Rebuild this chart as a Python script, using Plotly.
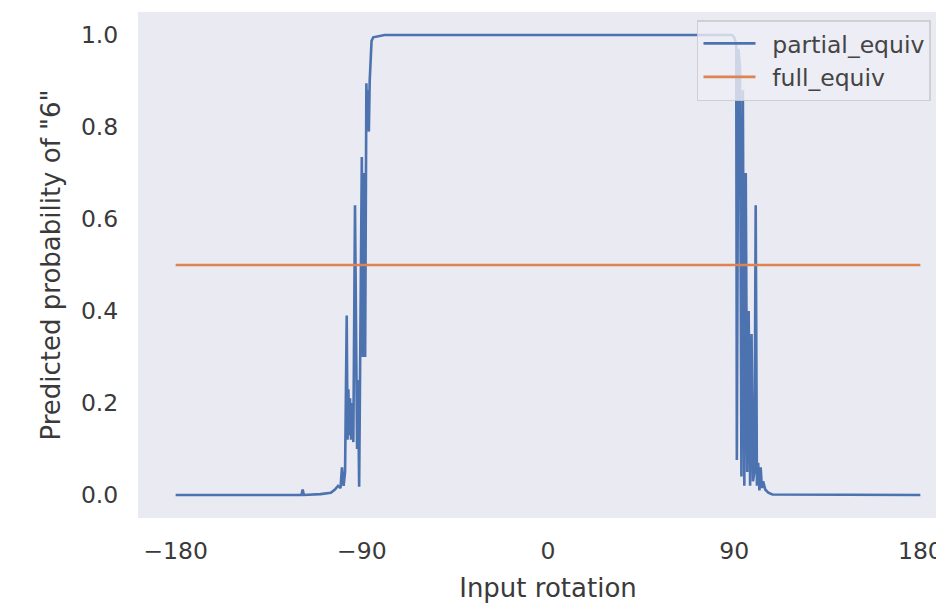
import plotly.graph_objects as go

# partial_equiv: predicted probability of "6" vs input rotation (degrees)
partial_x = [
    -180, -120, -119.2, -118.6, -118.0, -110, -105, -103, -101.5, -100.3,
    -99.6, -98.8, -98.1, -97.3, -96.9, -96.5, -96.1, -95.7, -95.2, -94.6,
    -94.1, -93.3, -92.3, -91.8, -91.3, -90.0, -89.5, -88.8, -88.4, -87.8,
    -87.4, -87.0, -86.6, -86.2, -85.8, -85.3, -84.5, -82.0, -79.0, 0,
    89.0, 90.0, 91.0, 91.3, 92.0, 92.8, 93.5, 94.2, 94.9, 95.6,
    96.3, 97.0, 97.7, 98.4, 99.1, 99.8, 100.4, 101.0, 101.6, 102.2,
    102.8, 103.4, 104.0, 105.0, 106.5, 108.5, 180,
]
partial_y = [
    0.0, 0.0, 0.0, 0.012, 0.0, 0.002, 0.005, 0.012, 0.02, 0.015,
    0.06, 0.02, 0.05, 0.39, 0.12, 0.23, 0.13, 0.21, 0.12, 0.20,
    0.115, 0.63, 0.10, 0.25, 0.018, 0.735, 0.30, 0.70, 0.30, 0.895,
    0.80, 0.88, 0.79, 0.90, 0.96, 0.987, 0.995, 0.998, 1.0, 1.0,
    1.0, 0.995, 0.98, 0.076, 0.97, 0.93, 0.04, 0.88, 0.02, 0.70,
    0.05, 0.40, 0.02, 0.35, 0.03, 0.05, 0.63, 0.02, 0.07, 0.01,
    0.06, 0.015, 0.03, 0.012, 0.005, 0.001, 0.0,
]

# full_equiv: constant prediction
full_x = [-180, 180]
full_y = [0.5, 0.5]

x_tick_vals = [-180, -90, 0, 90, 180]
x_tick_text = ["\u2212180", "\u221290", "0", "90", "180"]
y_tick_vals = [0.0, 0.2, 0.4, 0.6, 0.8, 1.0]
y_tick_text = ["0.0", "0.2", "0.4", "0.6", "0.8", "1.0"]

FONT = "DejaVu Sans"
TXT = "#3a3a3a"

fig = go.Figure()
fig.add_trace(go.Scatter(
    x=partial_x, y=partial_y, mode="lines", name="\u2002partial_equiv",
    line=dict(color="#4C72B0", width=2.6),
))
fig.add_trace(go.Scatter(
    x=full_x, y=full_y, mode="lines", name="\u2002full_equiv",
    line=dict(color="#DD8452", width=2.6),
))

# The reference figure is cropped on the right: the full figure is wider
# than the 936px window, and the window shows only its left part.
fig.update_layout(
    width=990, height=603,
    autosize=False,
    margin=dict(l=138, r=32, t=12, b=85, autoexpand=False),
    paper_bgcolor="white",
    plot_bgcolor="#EAEAF2",
    font=dict(family=FONT, size=24, color=TXT),
    showlegend=True,
    legend=dict(
        x=0.6817, y=0.984, xanchor="left", yanchor="top",
        bgcolor="rgba(238,238,245,0.8)",
        bordercolor="rgba(204,204,204,0.9)", borderwidth=1.5,
        font=dict(family=FONT, size=23.5, color="#444444"),
        itemwidth=52,
    ),
    xaxis=dict(
        range=[-198.2, 198.2],
        tickvals=x_tick_vals, ticktext=x_tick_text,
        showgrid=False, zeroline=False, showline=False,
        ticks="outside", ticklen=12, tickcolor="rgba(0,0,0,0)",
        tickfont=dict(family=FONT, size=23.5, color=TXT),
        title=dict(text="Input rotation", standoff=14,
                   font=dict(family=FONT, size=26, color=TXT)),
    ),
    yaxis=dict(
        range=[-0.05, 1.05],
        tickvals=y_tick_vals, ticktext=y_tick_text,
        showgrid=False, zeroline=False, showline=False,
        ticks="outside", ticklen=14, tickcolor="rgba(0,0,0,0)",
        tickfont=dict(family=FONT, size=23.5, color=TXT),
        title=dict(text="Predicted probability of \"6\"", standoff=12,
                   font=dict(family=FONT, size=26, color=TXT)),
    ),
)

fig.write_html(
    "out.html",
    config={"displayModeBar": False, "responsive": False},
    post_script=(
        "document.documentElement.style.margin='0';"
        "document.documentElement.style.overflow='hidden';"
        "document.body.style.margin='0';"
        "document.body.style.padding='0';"
        "document.body.style.overflow='hidden';"
    ),
)
